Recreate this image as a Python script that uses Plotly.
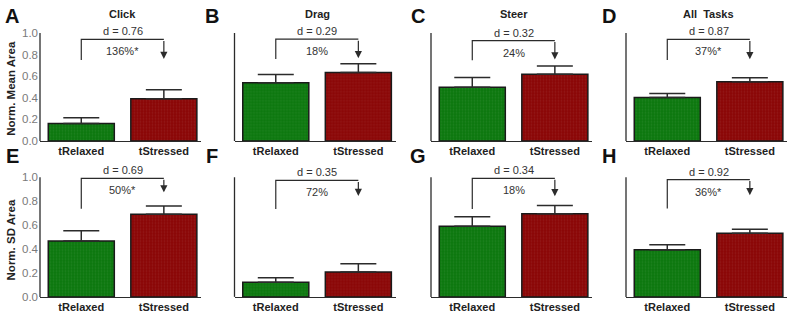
import plotly.graph_objects as go

# ---------------- data ----------------
categories = ["tRelaxed", "tStressed"]
panel_letters = ["A", "B", "C", "D", "E", "F", "G", "H"]
col_titles = ["Click", "Drag", "Steer", "All\u00a0 Tasks"]
row_titles = ["Norm. Mean Area", "Norm. SD Area"]

relaxed_vals = [0.162, 0.539, 0.497, 0.403, 0.466, 0.123, 0.590, 0.394]
relaxed_err_top = [0.214, 0.615, 0.588, 0.440, 0.553, 0.159, 0.670, 0.435]
stressed_vals = [0.390, 0.633, 0.618, 0.548, 0.690, 0.208, 0.694, 0.532]
stressed_err_top = [0.475, 0.715, 0.694, 0.585, 0.760, 0.276, 0.763, 0.565]

bracket_level = [0.94, 0.943, 0.93, 0.94, 0.99, 0.973, 0.99, 0.98]
bracket_left_end = [0.75, 0.76, 0.748, 0.75, 0.736, 0.733, 0.735, 0.739]
bracket_arrow_tip = [0.76, 0.767, 0.755, 0.757, 0.873, 0.842, 0.84, 0.849]
effect_d = ["d = 0.76", "d = 0.29", "d = 0.32", "d = 0.87",
            "d = 0.69", "d = 0.35", "d = 0.34", "d = 0.92"]
effect_pct = ["136%*", "18%", "24%", "37%*", "50%*", "72%", "18%", "36%*"]

y_ticks = [0.0, 0.2, 0.4, 0.6, 0.8, 1.0]

# ---------------- layout geometry ----------------
W, H = 800, 323
FONT = "Arial, Liberation Sans, Helvetica, sans-serif"
GREEN = "#0b770d"
RED = "#8a0505"
DARK = "#2b2b2b"

left_px = [40, 234.5, 431, 626]
x_range = [-0.5, 1.45]
plot_w = 161
y_range = [0, 1.08]
row_zero_px = [143.6, 302.5]
row_scale = [110, 122]

fig = go.Figure()
layout = dict(
    width=W, height=H, margin=dict(l=0, r=0, t=0, b=0, pad=0),
    paper_bgcolor="white", plot_bgcolor="white", showlegend=False,
    bargap=0.2,
)
annotations = []
shapes = []

for i in range(8):
    r, c = divmod(i, 4)
    n = i + 1
    xa = "x" if n == 1 else f"x{n}"
    ya = "y" if n == 1 else f"y{n}"
    xkey = "xaxis" if n == 1 else f"xaxis{n}"
    ykey = "yaxis" if n == 1 else f"yaxis{n}"

    x0 = left_px[c] / W
    x1 = (left_px[c] + plot_w) / W
    zero_px = row_zero_px[r]
    top_px = zero_px - y_range[1] * row_scale[r]
    layout[xkey] = dict(
        domain=[x0, x1], range=x_range, anchor=ya,
        tickvals=[0, 1], ticktext=[f"<b>{t}</b>" for t in categories], ticks="",
        showline=True, linecolor=DARK, linewidth=1.3,
        showgrid=False, zeroline=False, fixedrange=True,
        tickfont=dict(family=FONT, size=11, color="#222222"),
    )
    layout[ykey] = dict(
        domain=[1 - zero_px / H, 1 - top_px / H], range=y_range, anchor=xa,
        showline=False, showgrid=False, zeroline=False, ticks="",
        tickvals=y_ticks if c == 0 else [], tickformat=".1f",
        showticklabels=(c == 0), ticklabelstandoff=1, fixedrange=True,
        tickfont=dict(family=FONT, size=11.5, color="#7a7a7a"),
    )

    vals = [relaxed_vals[i], stressed_vals[i]]
    tops = [relaxed_err_top[i], stressed_err_top[i]]
    fig.add_trace(go.Bar(
        x=[0, 1], y=vals, width=0.8, xaxis=xa, yaxis=ya,
        marker=dict(color=[GREEN, RED], line=dict(color="#1a1a1a", width=1.5),
                    pattern=dict(shape=".", size=3, solidity=0.3,
                                 fgcolor="#000000", fgopacity=0.08)),
        error_y=dict(type="data", symmetric=False,
                     array=[t - v for t, v in zip(tops, vals)],
                     arrayminus=[0, 0], color=DARK, thickness=1.5, width=18),
        hoverinfo="skip",
    ))

    # y axis line from 0 to 1.0
    shapes.append(dict(type="line", xref=f"{xa} domain", yref=ya,
                       x0=0, x1=0, y0=0, y1=1.0,
                       line=dict(color=DARK, width=1.3)))

    # bracket
    fig.add_trace(go.Scatter(
        x=[0, 0, 1], y=[bracket_left_end[i], bracket_level[i], bracket_level[i]],
        mode="lines", line=dict(color=DARK, width=1.2),
        xaxis=xa, yaxis=ya, hoverinfo="skip",
    ))
    annotations.append(dict(
        x=1, y=bracket_arrow_tip[i], ax=1, ay=bracket_level[i],
        xref=xa, yref=ya, axref=xa, ayref=ya, text="", showarrow=True,
        arrowhead=2, arrowsize=1.2, arrowwidth=1.2, arrowcolor=DARK,
        standoff=0, startstandoff=0,
    ))
    annotations.append(dict(
        x=0.5, y=bracket_level[i], xref=xa, yref=ya, text=effect_d[i],
        showarrow=False, yanchor="bottom", yshift=0,
        font=dict(family=FONT, size=11, color="#333333"),
    ))
    annotations.append(dict(
        x=0.5, y=bracket_level[i], xref=xa, yref=ya, text=effect_pct[i],
        showarrow=False, yanchor="top", yshift=-4,
        font=dict(family=FONT, size=11, color="#333333"),
    ))

    # panel letter
    letter_x = [12, 212, 418, 609][c]
    letter_y = [16, 159][r]
    annotations.append(dict(
        x=letter_x / W, y=1 - letter_y / H, xref="paper", yref="paper",
        text=f"<b>{panel_letters[i]}</b>", showarrow=False,
        xanchor="center", yanchor="middle",
        font=dict(family=FONT, size=20, color="#111111"),
    ))

    if r == 0:
        annotations.append(dict(
            x=0.5, y=1 - 14 / H, xref=xa, yref="paper",
            text=f"<b>{col_titles[c]}</b>", showarrow=False,
            xanchor="center", yanchor="middle",
            font=dict(family=FONT, size=11, color="#222222"),
        ))

for r, title in enumerate(row_titles):
    annotations.append(dict(
        x=11 / W, y=1 - [90.5, 245][r] / H, xref="paper", yref="paper",
        text=f"<b>{title}</b>", showarrow=False, textangle=-90,
        xanchor="center", yanchor="middle",
        font=dict(family=FONT, size=11.5, color="#222222"),
    ))

layout["annotations"] = annotations
layout["shapes"] = shapes
fig.update_layout(**layout)
fig.write_html("out.html", config={"displayModeBar": False, "staticPlot": True},
               post_script="document.body.style.margin='0px';document.body.style.padding='0px';")
